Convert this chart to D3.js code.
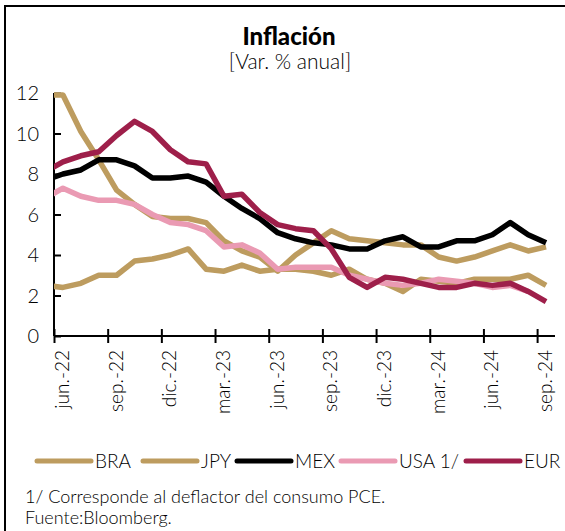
<!DOCTYPE html>
<html><head><meta charset="utf-8">
<script src="https://cdn.jsdelivr.net/npm/d3@7"></script>
<style>
html,body{margin:0;padding:0;background:#fff;}
svg{display:block;font-family:Lato,"Open Sans",sans-serif;}
</style></head>
<body>
<svg id="chart" width="565" height="531"></svg>
<script>
// Month index: -1 = may.-22 (partly clipped at the axis), 0 = jun.-22 ... 27 = sep.-24
const months = d3.range(-1, 28);
const tickIdx = [-0.5, 2.5, 5.5, 8.5, 11.5, 14.5, 17.5, 20.5, 23.5, 26.5];
const tickLabels = ["jun.-22","sep.-22","dic.-22","mar.-23","jun.-23","sep.-23","dic.-23","mar.-24","jun.-24","sep.-24"];
const yTicks = [0, 2, 4, 6, 8, 10, 12];

const BRA = [11.9,11.9,10.1,8.7,7.2,6.5,5.9,5.8,5.8,5.6,4.7,4.2,3.9,3.2,4.0,4.6,5.2,4.8,4.7,4.6,4.5,4.5,3.9,3.7,3.9,4.2,4.5,4.2,4.4];
const JPY = [2.5,2.4,2.6,3.0,3.0,3.7,3.8,4.0,4.3,3.3,3.2,3.5,3.2,3.3,3.3,3.2,3.0,3.3,2.8,2.6,2.2,2.8,2.7,2.6,2.8,2.8,2.8,3.0,2.5];
const MEX = [7.7,8.0,8.2,8.7,8.7,8.4,7.8,7.8,7.9,7.6,6.9,6.3,5.8,5.1,4.8,4.6,4.5,4.3,4.3,4.7,4.9,4.4,4.4,4.7,4.7,5.0,5.6,5.0,4.6];
const USA = [6.8,7.3,6.9,6.7,6.7,6.5,6.0,5.6,5.5,5.2,4.4,4.5,4.1,3.3,3.4,3.4,3.4,3.0,2.8,2.6,2.5,2.6,2.8,2.7,2.6,2.4,2.5,2.2,null];
const EUR = [8.1,8.6,8.9,9.1,9.9,10.6,10.1,9.2,8.6,8.5,6.9,7.0,6.1,5.5,5.3,5.2,4.3,2.9,2.4,2.9,2.8,2.6,2.4,2.4,2.6,2.5,2.6,2.2,1.7];

const seriesNames = ["BRA","JPY","MEX","USA 1/","EUR"];
const seriesData = [BRA, JPY, MEX, USA, EUR];
const colors = ["#BD9C5F","#BD9C5F","#000000","#EA9AB3","#9E1F4A"];

const svg = d3.select("#chart");
const W = 565, H = 531;

// frame (left and top border)
svg.append("line").attr("x1",5).attr("x2",5).attr("y1",5).attr("y2",H).attr("stroke","#000").attr("stroke-width",2);
svg.append("line").attr("x1",4).attr("x2",W).attr("y1",6).attr("y2",6).attr("stroke","#000").attr("stroke-width",2);

// titles
svg.append("text").attr("x",289).attr("y",45).attr("text-anchor","middle")
  .attr("font-size",24).attr("font-weight",900).attr("fill","#000").text("Inflación");
svg.append("text").attr("x",290).attr("y",69).attr("text-anchor","middle")
  .attr("font-size",21).attr("font-weight",300).attr("fill","#000").text("[Var. % anual]");

const x = d3.scaleLinear().domain([-0.5, 27.5]).range([54, 555]);
const y = d3.scaleLinear().domain([0, 12]).range([336, 93]);

svg.append("defs").append("clipPath").attr("id","plotclip")
  .append("rect").attr("x",54).attr("y",60).attr("width",510).attr("height",290);

// y axis
const yAxis = svg.append("g").attr("transform","translate(54,0)")
  .call(d3.axisRight(y).tickValues(yTicks).tickSize(7).tickFormat(""));
yAxis.select(".domain").attr("stroke","#000").attr("stroke-width",2).attr("d","M0,"+y(12)+"V"+y(0));
yAxis.selectAll(".tick line").attr("stroke","#000").attr("stroke-width",2);
svg.append("g").selectAll("text").data(yTicks).join("text")
  .attr("x",39).attr("y",d=>y(d)).attr("dy","0.36em").attr("text-anchor","end")
  .attr("font-size",20).attr("font-weight",300).attr("fill","#000").text(d=>d);

// x axis
const xAxis = svg.append("g").attr("transform","translate(0,336)")
  .call(d3.axisBottom(x).tickValues(tickIdx).tickSize(7).tickSizeOuter(0).tickFormat(""));
xAxis.select(".domain").attr("stroke","#000").attr("stroke-width",2).attr("d","M54,0H555");
xAxis.selectAll(".tick line").attr("stroke","#000").attr("stroke-width",2).attr("y1",-7);
svg.append("g").selectAll("text").data(tickIdx).join("text")
  .attr("transform",(d)=>`translate(${x(d)+15},350) rotate(-90)`)
  .attr("text-anchor","end").attr("font-size",19).attr("font-weight",300).attr("fill","#000")
  .text((d,i)=>tickLabels[i]);

// lines
const line = d3.line().defined(d=>d[1]!==null).x(d=>x(d[0])).y(d=>y(d[1]));
const plot = svg.append("g").attr("clip-path","url(#plotclip)");
seriesData.forEach((s,k)=>{
  plot.append("path").datum(months.map((m,i)=>[m,s[i]]))
    .attr("d",line).attr("fill","none").attr("stroke",colors[k])
    .attr("stroke-width",5.5).attr("stroke-linejoin","round").attr("stroke-linecap","butt");
});

// legend
const legX = [37, 143, 237, 341, 466];
const leg = svg.append("g");
seriesNames.forEach((n,k)=>{
  leg.append("line").attr("x1",legX[k]).attr("x2",legX[k]+54).attr("y1",461).attr("y2",461)
    .attr("stroke",colors[k]).attr("stroke-width",5).attr("stroke-linecap","round");
  leg.append("text").attr("x",legX[k]+58).attr("y",461).attr("dy","0.36em")
    .attr("font-size",19).attr("font-weight",300).attr("fill","#000").text(n);
});

// notes
svg.append("text").attr("x",25).attr("y",503).attr("font-size",18).attr("font-weight",300)
  .attr("fill","#000").text("1/ Corresponde al deflactor del consumo PCE.");
svg.append("text").attr("x",25).attr("y",524).attr("font-size",18).attr("font-weight",300)
  .attr("fill","#000").text("Fuente:Bloomberg.");
</script>
</body></html>
